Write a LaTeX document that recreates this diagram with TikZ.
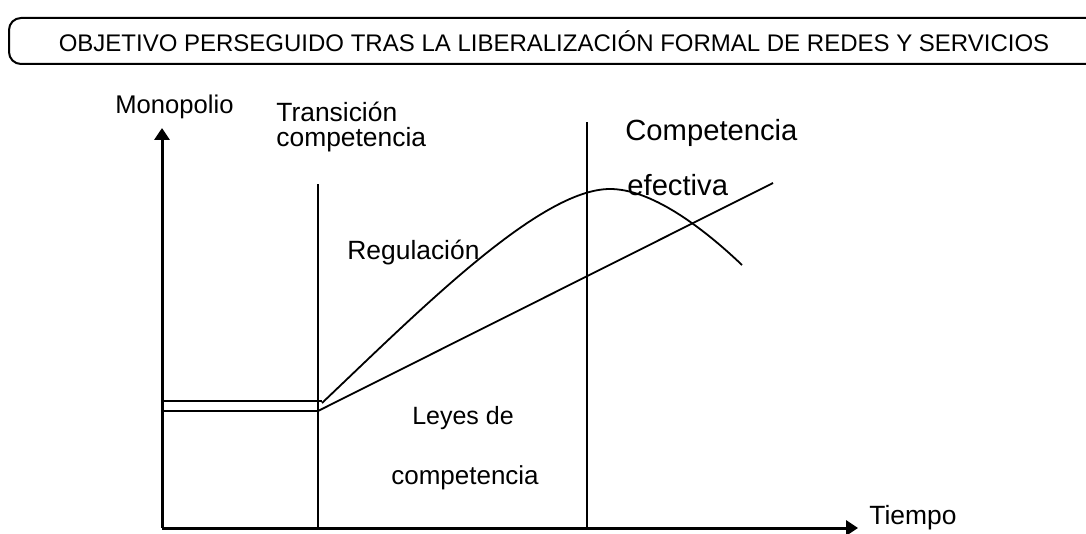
\documentclass[tikz,border=0pt]{standalone}
\usepackage{fontspec}
\setmainfont{Liberation Sans}
\usetikzlibrary{arrows.meta}

\tikzset{
  lbl/.style={inner sep=0pt, anchor=west},
  axis/.style={line width=1.5pt, -{Triangle[length=6pt, width=7.5pt]}},
  linea/.style={line width=0.9pt}
}

\begin{document}
\begin{tikzpicture}[x=0.5pt, y=-0.5pt]
		\clip (0,0) rectangle (1086,534);
		% titulo
		\draw[line width=1pt, rounded corners=6pt] (9,18) rectangle (1120,64);
		\node[inner sep=0pt, font=\fontsize{12}{14}\selectfont] (titulo) at (554,41)
			{OBJETIVO PERSEGUIDO TRAS LA LIBERALIZACIÓN FORMAL DE REDES Y SERVICIOS};

		\coordinate (o) at (162,528);
		\coordinate (ytop) at (162,128);
		\coordinate (xend) at (858,528);
		\coordinate (t1) at (318,184);
		\coordinate (t1b) at (318,528);
		\coordinate (t2) at (587,122);
		\coordinate (t2b) at (587,528);
		\coordinate (m1) at (162,401);
		\coordinate (m1e) at (322,401);
		\coordinate (m2) at (162,411);
		\coordinate (m2e) at (318,411);
		\coordinate (rstart) at (322,403);
		\coordinate (rtop) at (610,189);
		\coordinate (rend) at (742,265);
		\coordinate (lend) at (773,183);

		\draw[axis] (o) -- (ytop);
		\draw[axis] (o) -- (xend);
		\draw[linea] (t1b) -- (t1)
			  (t2b) -- (t2);
		\draw[linea] (m1) -- (m1e);
		\draw[line width=1.4pt] (m2) -- (m2e);
		\draw[linea] (m2e) -- (lend);
		\draw[linea] (rstart) .. controls (420,310) and (540,189) .. (rtop)
			  .. controls (650,189) and (700,225) .. (rend);

		\node[lbl, font=\fontsize{12.8}{15}\selectfont] (mono) at (115,107) {Monopolio};
		\node[lbl, font=\fontsize{13.2}{15}\selectfont] (trans) at (276,112) {Transición};
		\node[lbl, font=\fontsize{13.2}{15}\selectfont] (transb) at (276,140) {competencia};
		\node[lbl, font=\fontsize{14.6}{17}\selectfont] (comp) at (625,133) {Competencia};
		\node[lbl, font=\fontsize{14.6}{17}\selectfont] (efec) at (627,185) {efectiva};
		\node[lbl, font=\fontsize{13.2}{15}\selectfont] (reg) at (347,253) {Regulación};
		\node[inner sep=0pt, font=\fontsize{12.5}{15}\selectfont] (leyes) at (463,418) {Leyes de};
		\node[inner sep=0pt, font=\fontsize{13}{15}\selectfont] (leyesb) at (465,478) {competencia};
		\node[lbl, font=\fontsize{13.2}{15}\selectfont] (tiempo) at (869,518) {Tiempo};
\end{tikzpicture}
\end{document}
